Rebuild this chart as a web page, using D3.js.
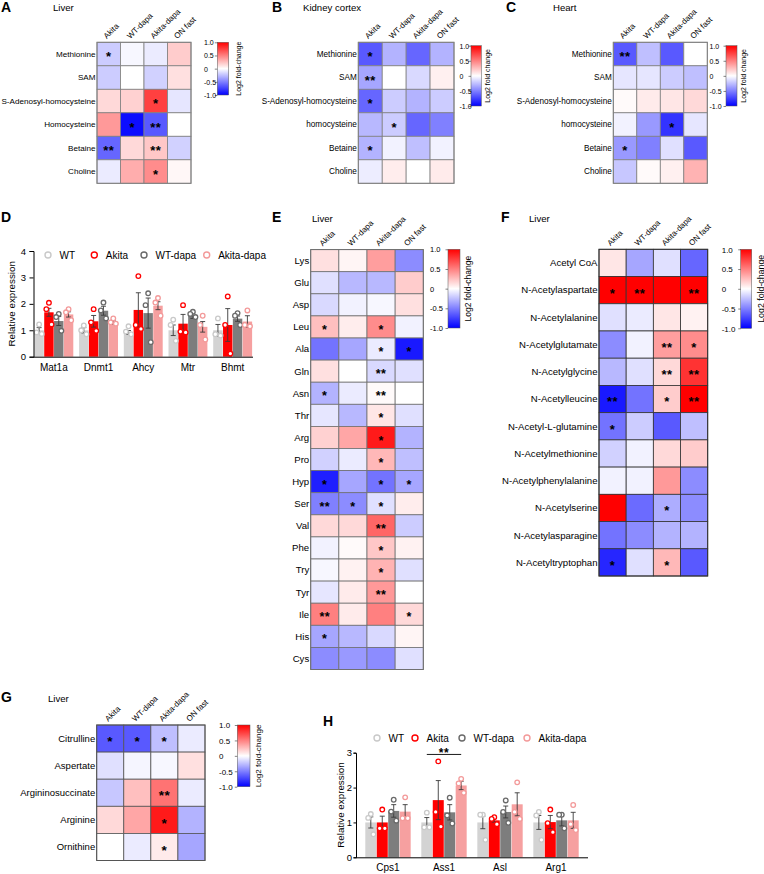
<!DOCTYPE html>
<html><head><meta charset="utf-8">
<script src="https://cdn.jsdelivr.net/npm/d3@7"></script>
<style>
body{margin:0;background:#fff}
svg{display:block}
text{font-family:"Liberation Sans",Arial,Helvetica,sans-serif;fill:#000}
</style>
</head><body>
<svg id="c" width="764" height="874"></svg>
<script>
// ---------------- DATA ----------------
const heatCols = ["Akita","WT-dapa","Akita-dapa","ON fast"];
const cbTicks = [1,0.5,0,-0.5,-1];
const cbTickLabels = ["1.0","0.5","0","-0.5","-1.0"];

const rowsA = ["Methionine","SAM","S-Adenosyl-homocysteine","Homocysteine","Betaine","Choline"];
const valsA = [[-0.2,-0.03,-0.08,0.2],[-0.2,0.0,-0.18,0.12],[0.15,0.18,0.75,-0.1],[0.4,-0.95,-0.65,0.0],[-0.6,0.15,0.22,-0.18],[-0.08,0.32,0.45,0.03]];
const starsA = [["*","","",""],["","","",""],["","","*",""],["","*","**",""],["**","","**",""],["","","*",""]];

const rowsB = ["Methionine","SAM","S-Adenosyl-homocysteine","homocysteine","Betaine","Choline"];
const valsB = [[-0.65,-0.3,-0.6,-0.3],[-0.35,0.0,-0.15,0.06],[-0.6,-0.2,-0.3,-0.2],[-0.28,-0.2,-0.6,-0.5],[-0.3,-0.05,-0.25,-0.05],[-0.07,0.07,0.0,0.08]];
const starsB = [["*","","",""],["**","","",""],["*","","",""],["","*","",""],["*","","",""],["","","",""]];

const rowsC = ["Methionine","SAM","S-Adenosyl-homocysteine","homocysteine","Betaine","Choline"];
const valsC = [[-0.65,-0.25,-0.65,0.0],[-0.1,-0.1,-0.2,-0.25],[0.02,0.08,0.1,0.15],[-0.05,-0.4,-0.8,-0.1],[-0.4,-0.5,-0.12,-0.65],[-0.22,0.02,0.06,0.3]];
const starsC = [["**","","",""],["","","",""],["","","",""],["","","*",""],["*","","",""],["","","",""]];

const rowsE = ["Lys","Glu","Asp","Leu","Ala","Gln","Asn","Thr","Arg","Pro","Hyp","Ser","Val","Phe","Try","Tyr","Ile","His","Cys"];
const valsE = [[0.12,0.04,0.38,-0.45],[-0.12,-0.28,-0.28,0.2],[-0.15,-0.05,-0.03,0.12],[0.25,0.07,0.45,-0.05],[-0.55,-0.35,-0.08,-0.9],[0.12,0.0,-0.15,-0.12],[-0.3,-0.08,0.02,0.0],[-0.1,-0.28,0.1,-0.12],[0.18,0.35,0.9,-0.3],[-0.18,-0.08,0.28,-0.25],[-0.88,-0.35,-0.55,-0.35],[-0.5,-0.45,-0.12,0.07],[0.15,0.15,0.6,-0.2],[-0.05,0.02,0.22,0.05],[-0.03,0.05,0.3,-0.12],[-0.1,0.08,0.4,0.0],[0.5,0.08,0.5,0.15],[-0.35,-0.28,-0.15,0.04],[-0.45,-0.4,-0.45,-0.12]];
const starsE = [["","","",""],["","","",""],["","","",""],["*","","*",""],["","","*","*"],["","","**",""],["*","","**",""],["","","*",""],["","","*",""],["","","*",""],["*","","*","*"],["**","*","*",""],["","","**",""],["","","*",""],["","","*",""],["","","**",""],["**","","","*"],["*","","",""],["","","",""]];

const rowsF = ["Acetyl CoA","N-Acetylaspartate","N-Acetylalanine","N-Acetylglutamate","N-Acetylglycine","N-Acetylleucine","N-Acetyl-L-glutamine","N-Acetylmethionine","N-Acetylphenylalanine","N-Acetylserine","N-Acetylasparagine","N-Acetyltryptophan"];
const valsF = [[0.1,-0.35,-0.12,-0.6],[1.0,1.0,1.0,1.0],[-0.12,-0.08,0.1,0.05],[-0.45,-0.05,0.38,0.45],[-0.28,-0.12,0.15,0.8],[-0.9,-0.55,0.2,1.0],[-0.55,-0.2,-0.65,-0.25],[-0.18,-0.05,0.15,0.2],[-0.05,-0.05,0.4,-0.45],[1.0,-0.58,-0.32,-0.45],[-0.55,-0.45,-0.3,-0.3],[-0.85,-0.12,0.28,-0.65]];
const starsF = [["","","",""],["*","**","","**"],["","","",""],["","","**","*"],["","","**","**"],["**","","*","**"],["*","","",""],["","","",""],["","","",""],["","","*",""],["","","",""],["*","","*",""]];

const rowsG = ["Citrulline","Aspertate","Argininosuccinate","Arginine","Ornithine"];
const valsG = [[-0.65,-0.65,-0.25,-0.08],[-0.12,-0.04,-0.03,0.12],[-0.22,0.25,0.55,-0.08],[0.15,0.35,0.9,-0.3],[0.0,-0.08,0.08,-0.35]];
const starsG = [["*","*","*",""],["","","",""],["","","**",""],["","","*",""],["","","*",""]];

const groups = ["WT","Akita","WT-dapa","Akita-dapa"];
const genesD = ["Mat1a","Dnmt1","Ahcy","Mtr","Bhmt"];
const meanD = [[1.0,1.68,1.35,1.6],[1.0,1.34,1.74,1.3],[0.92,1.77,1.65,1.93],[1.0,1.25,1.55,1.13],[1.0,1.2,1.44,1.33]];
const semD = [[0.1,0.15,0.17,0.1],[0.1,0.22,0.17,0.08],[0.07,0.65,0.57,0.15],[0.2,0.35,0.1,0.2],[0.22,0.62,0.1,0.22]];
const ptsD = [
 [[1.22,0.92,0.86],[2.04,1.8,1.22],[1.62,1.5,0.98],[1.8,1.68,1.38]],
 [[1.18,1.0,0.85],[1.8,1.3,0.98],[2.05,1.75,1.45],[1.45,1.3,1.25]],
 [[1.15,0.95,0.85],[3.05,1.2,1.05],[2.4,1.95,0.55],[2.22,2.05,1.55]],
 [[1.4,1.2,0.6],[1.95,0.95,0.92],[1.7,1.62,1.5],[1.55,1.2,0.65]],
 [[1.45,0.85,0.8],[2.28,1.2,0.12],[1.65,1.55,1.2],[1.75,1.2,1.15]]];
const ticksD = [0,1,2,3,4];

const genesH = ["Cps1","Ass1","Asl","Arg1"];
const meanH = [[1.0,1.0,1.33,1.31],[1.0,1.64,1.29,2.06],[1.0,1.06,1.3,1.52],[1.0,1.01,1.06,1.06]];
const semH = [[0.16,0.18,0.18,0.2],[0.14,0.56,0.22,0.12],[0.18,0.05,0.17,0.33],[0.2,0.19,0.16,0.23]];
const ptsH = [
 [[1.24,1.13,0.66],[1.37,0.83,0.83],[1.65,1.31,1.05],[1.72,1.12,1.12]],
 [[1.28,0.86,0.86],[2.75,1.3,0.88],[1.71,1.2,0.97],[2.25,2.12,1.85]],
 [[1.22,1.22,0.5],[1.15,1.1,0.95],[1.63,1.3,0.99],[2.15,1.3,1.1]],
 [[1.3,1.2,0.5],[1.37,0.98,0.72],[1.22,1.22,0.83],[1.5,0.95,0.78]]];
const ticksH = [0,1,2,3];
const sigH = {gene:"Ass1", from:"WT", to:"Akita-dapa", y:2.95, label:"**"};

// ---------------- STYLE ----------------
const barFill = {"WT":"#d3d3d3","Akita":"#ff0000","WT-dapa":"#7d7d7d","Akita-dapa":"#f6a0a0"};
const ptStroke = {"WT":"#c9c9c9","Akita":"#ff0000","WT-dapa":"#6a6a6a","Akita-dapa":"#f39a9a"};
const FONT = '"Liberation Sans",Arial,sans-serif';

const svg = d3.select("#c");
const color = d3.scaleLinear().domain([-1,0,1]).range(["#0000ff","#ffffff","#ff0000"]).clamp(true);
const defs = svg.append("defs");
const grad = defs.append("linearGradient").attr("id","cbgrad").attr("x1",0).attr("y1",1).attr("x2",0).attr("y2",0);
d3.range(-1,1.01,0.1).forEach(v=>grad.append("stop").attr("offset",(v+1)/2).attr("stop-color",color(v)));

function label(x,y,txt,size,weight){
  return svg.append("text").attr("x",x).attr("y",y).style("font-size",size+"px").style("font-weight",weight||"normal").text(txt);
}

function heatmap(cfg){
  label(cfg.lx,cfg.ly,cfg.letter,14,"bold");
  label(cfg.tx,cfg.ty,cfg.title,cfg.titleFont||9.6);
  const g = svg.append("g");
  const x = d3.scaleBand().domain(heatCols).range([cfg.x0,cfg.x1]);
  const y = d3.scaleBand().domain(cfg.rows).range([cfg.y0,cfg.y1]);
  cfg.rows.forEach((r,i)=>heatCols.forEach((c,j)=>{
    g.append("rect").attr("x",x(c)).attr("y",y(r)).attr("width",x.bandwidth()).attr("height",y.bandwidth())
      .attr("fill",color(cfg.vals[i][j])).attr("stroke",cfg.grid).attr("stroke-width",0.8);
  }));
  cfg.rows.forEach((r,i)=>heatCols.forEach((c,j)=>{
    const s = cfg.stars[i][j];
    if(s) g.append("text").attr("x",x(c)+x.bandwidth()/2).attr("y",y(r)+y.bandwidth()/2)
      .attr("dy","0.57em").attr("text-anchor","middle").attr("letter-spacing","0.5px")
      .style("font-size",cfg.starFont+"px").style("font-weight","bold").text(s);
  }));
  g.append("rect").attr("x",cfg.x0).attr("y",cfg.y0).attr("width",cfg.x1-cfg.x0).attr("height",cfg.y1-cfg.y0)
    .attr("fill","none").attr("stroke",cfg.grid).attr("stroke-width",1);
  cfg.rows.forEach(r=>{
    g.append("text").attr("x",cfg.x0-1.5).attr("y",y(r)+y.bandwidth()/2).attr("dy","0.35em")
      .attr("text-anchor","end").style("font-size",cfg.rowFont+"px").text(r);
  });
  heatCols.forEach(c=>{
    g.append("text").attr("transform",`translate(${x(c)+x.bandwidth()/2-2},${cfg.y0-3}) rotate(-45)`)
      .style("font-size",(cfg.colFont||8)+"px").text(c);
  });
  // colorbar
  const cb = cfg.cb;
  g.append("rect").attr("x",cb.x).attr("y",cb.y).attr("width",cb.w).attr("height",cb.h)
    .attr("fill","url(#cbgrad)").attr("stroke","#555").attr("stroke-width",0.5);
  const cy = d3.scaleLinear().domain([-1,1]).range([cb.y+cb.h,cb.y]);
  const ax = g.append("g").attr("transform",`translate(${cb.x},0)`)
    .call(d3.axisLeft(cy).tickValues(cbTicks).tickSize(2.5).tickFormat((d,i)=>cbTickLabels[i]));
  ax.select(".domain").remove();
  ax.selectAll("line").attr("stroke","#333").attr("stroke-width",0.6);
  ax.selectAll("text").attr("text-anchor","start").attr("x",cb.lab-cb.x).attr("dy","0.35em")
    .style("font-size",cb.font+"px").style("font-family",FONT).attr("fill","#000");
  g.append("text").attr("transform",`translate(${cb.tx},${cb.y+cb.h/2}) rotate(-90)`)
    .attr("text-anchor","middle").style("font-size",cb.tfont+"px").text(cb.title);
}

heatmap({letter:"A",lx:1,ly:12,title:"Liver",tx:53,ty:11,rows:rowsA,vals:valsA,stars:starsA,
  x0:97,x1:191,y0:42.3,y1:183.3,rowFont:8.1,starFont:13,grid:"#808080",
  cb:{x:217.3,y:42.3,w:11.4,h:52.7,lab:204,font:7,tx:240.5,tfont:7,title:"Log2 fold-change"}});
heatmap({letter:"B",lx:272,ly:12,title:"Kidney cortex",tx:303,ty:11,rows:rowsB,vals:valsB,stars:starsB,
  x0:358.3,x1:454,y0:42.3,y1:183.3,rowFont:8.2,starFont:13,grid:"#808080",
  cb:{x:471,y:45.7,w:10.3,h:60.3,lab:459.5,font:7,tx:490,tfont:7,title:"Log2 fold change"}});
heatmap({letter:"C",lx:506,ly:12,title:"Heart",tx:553,ty:11,rows:rowsC,vals:valsC,stars:starsC,
  x0:613.3,x1:707.3,y0:42.3,y1:183.3,rowFont:8.2,starFont:13,grid:"#808080",
  cb:{x:726,y:45.7,w:11,h:60.3,lab:709.5,font:7,tx:745.5,tfont:7,title:"Log2 fold change"}});
heatmap({letter:"E",lx:272,ly:222,title:"Liver",tx:312,ty:222,rows:rowsE,vals:valsE,stars:starsE,
  x0:310.7,x1:423.3,y0:249.6,y1:669.5,rowFont:9.6,starFont:12.5,grid:"#707070",
  cb:{x:448,y:249.3,w:12,h:78.7,lab:430,font:7.5,tx:471,tfont:8.5,title:"Log2 fold-change"}});
heatmap({letter:"F",lx:501,ly:222,title:"Liver",tx:529,ty:222,rows:rowsF,vals:valsF,stars:starsF,
  x0:599,x1:707.7,y0:249.3,y1:576,rowFont:9.6,starFont:13,grid:"#333",
  cb:{x:740.7,y:249.3,w:11,h:79,lab:721.7,font:8,tx:763.5,tfont:8.8,title:"Log2 fold-change"}});
heatmap({letter:"G",lx:1,ly:702,title:"Liver",tx:48,ty:702,rows:rowsG,vals:valsG,stars:starsG,
  x0:96.7,x1:205,y0:725,y1:860.5,rowFont:9.5,starFont:13.5,grid:"#555",
  cb:{x:237.3,y:725,w:12.7,h:61.7,lab:219,font:8,tx:261,tfont:8.1,title:"Log2 fold-change"}});

// ---------------- BAR CHARTS ----------------
function barChart(cfg){
  const g = svg.append("g");
  const x0 = d3.scaleBand().domain(cfg.genes).range([cfg.xl,cfg.xr]).paddingInner(cfg.pi).paddingOuter(cfg.po);
  const x1 = d3.scaleBand().domain(groups).range([0,x0.bandwidth()]).paddingInner(0.04);
  const y = d3.scaleLinear().domain([0,d3.max(cfg.ticks)]).range([cfg.yb,cfg.yt]);
  const bw = x1.bandwidth();
  const offs = [0,-2.6,2.6];
  cfg.genes.forEach((gn,i)=>groups.forEach((gr,j)=>{
    const bx = x0(gn)+x1(gr), m = cfg.mean[i][j];
    g.append("rect").attr("x",bx).attr("y",y(m)).attr("width",bw).attr("height",y(0)-y(m)).attr("fill",barFill[gr]);
  }));
  cfg.genes.forEach((gn,i)=>groups.forEach((gr,j)=>{
    const bx = x0(gn)+x1(gr), m = cfg.mean[i][j], e = cfg.sem[i][j], cx = bx+bw/2;
    const eg = g.append("g").attr("stroke","#3a3a3a").attr("stroke-width",0.9);
    eg.append("line").attr("x1",cx).attr("x2",cx).attr("y1",y(m-e)).attr("y2",y(m+e));
    eg.append("line").attr("x1",cx-2.5).attr("x2",cx+2.5).attr("y1",y(m+e)).attr("y2",y(m+e));
    eg.append("line").attr("x1",cx-2.5).attr("x2",cx+2.5).attr("y1",y(m-e)).attr("y2",y(m-e));
    cfg.pts[i][j].forEach((v,k)=>{
      g.append("circle").attr("cx",cx+offs[k]).attr("cy",y(v)).attr("r",2.3)
        .attr("fill","#fff").attr("stroke",ptStroke[gr]).attr("stroke-width",1.3);
    });
  }));
  const ya = g.append("g").attr("transform",`translate(${cfg.xl},0)`)
    .call(d3.axisLeft(y).tickValues(cfg.ticks).tickSize(cfg.tickSize).tickPadding(cfg.tickPad).tickFormat(d3.format("d")));
  ya.selectAll("text").style("font-size","9.5px").style("font-family",FONT).attr("fill","#000");
  ya.selectAll("line,path").attr("stroke","#000");
  const xa = g.append("g").attr("transform",`translate(0,${cfg.yb})`)
    .call(d3.axisBottom(x0).tickSize(0).tickPadding(7));
  xa.select(".domain").attr("d",`M${cfg.xl},0.5H${cfg.xr}`).attr("stroke","#000");
  xa.selectAll("text").style("font-size","10px").style("font-family",FONT).attr("fill","#000");
  g.append("text").attr("transform",`translate(${cfg.ylx},${(cfg.yb+cfg.yt)/2}) rotate(-90)`)
    .attr("text-anchor","middle").style("font-size","9.8px").text("Relative expression");
  // legend
  groups.forEach((gr,j)=>{
    g.append("circle").attr("cx",cfg.leg[j]).attr("cy",cfg.legY).attr("r",3)
      .attr("fill","#fff").attr("stroke",ptStroke[gr]).attr("stroke-width",1.4);
    g.append("text").attr("x",cfg.leg[j]+11.5).attr("y",cfg.legY).attr("dy","0.36em")
      .style("font-size","10px").text(gr);
  });
  if(cfg.sig){
    const s = cfg.sig, gx = x0(s.gene);
    const xa1 = gx+x1(s.from)+bw/2, xa2 = gx+x1(s.to)+bw/2;
    g.append("line").attr("x1",xa1).attr("x2",xa2).attr("y1",y(s.y)).attr("y2",y(s.y)).attr("stroke","#000").attr("stroke-width",0.9);
    g.append("text").attr("x",(xa1+xa2)/2).attr("y",y(s.y)-1).attr("dy","0.3em").attr("text-anchor","middle")
      .attr("letter-spacing","0.5px").style("font-size","12px").style("font-weight","bold").text(s.label);
  }
  return g;
}

label(1,222,"D",14,"bold");
barChart({genes:genesD,mean:meanD,sem:semD,pts:ptsD,ticks:ticksD,xl:33.5,xr:253,pi:0.13,po:0.02,
  yb:356.7,yt:251,ylx:14.5,tickSize:4,tickPad:3.5,leg:[48,94.3,144,206.7],legY:255});

label(323,726,"H",14,"bold");
barChart({genes:genesH,mean:meanH,sem:semH,pts:ptsH,ticks:ticksH,xl:356,xr:588,pi:0.19,po:0.166,
  yb:857.3,yt:752.7,ylx:344,tickSize:2.5,tickPad:1.5,leg:[377,415,462,527],legY:738,sig:sigH});
</script>
</body></html>
